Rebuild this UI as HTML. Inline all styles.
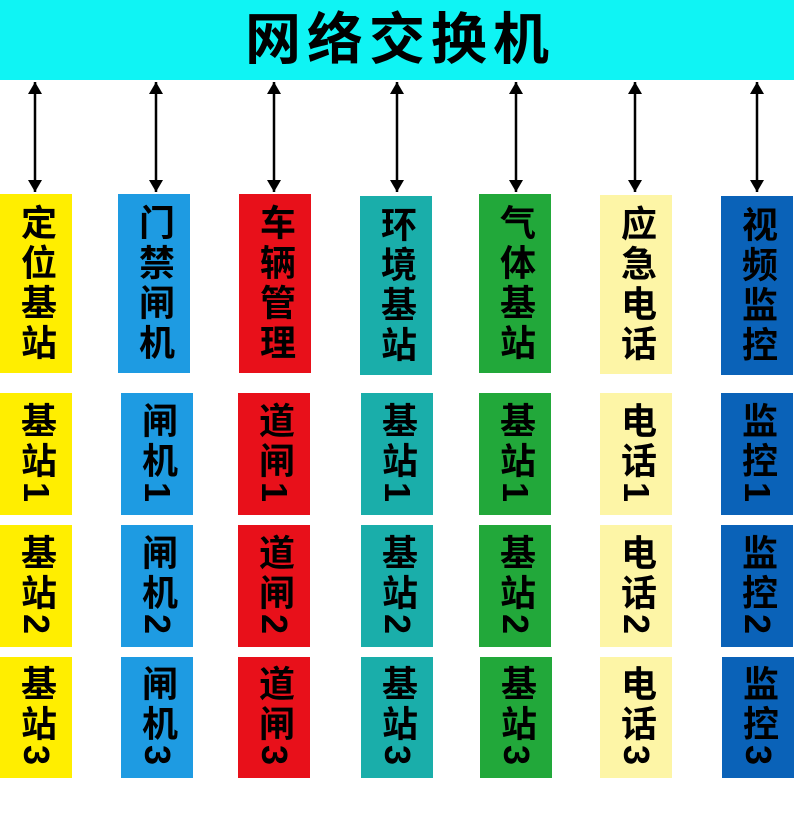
<!DOCTYPE html>
<html><head><meta charset="utf-8"><style>
body{margin:0;width:794px;height:823px;background:#fff;position:relative;overflow:hidden;font-family:"Liberation Sans","Noto Sans CJK SC",sans-serif}
.bar{position:absolute;left:0;top:0;width:794px;height:80px;background:#0ff4f4;text-align:center;font-size:56px;font-weight:bold;line-height:80px;letter-spacing:6px;text-indent:6px}
.b{position:absolute;width:72px;display:flex;align-items:center;justify-content:center}
.b span{writing-mode:vertical-rl;font-size:36px;font-weight:bold;letter-spacing:4px;color:#000;line-height:1}
</style></head><body>
<div class="bar">网络交换机</div>
<svg width="794" height="823" style="position:absolute;left:0;top:0">
<defs><marker id="a" markerWidth="14" markerHeight="14" refX="12" refY="7" orient="auto-start-reverse" markerUnits="userSpaceOnUse" viewBox="0 0 14 14"><path d="M0,0 L12,7 L0,14z" fill="#000"/></marker></defs>
<g stroke="#000" stroke-width="2.5" marker-start="url(#a)" marker-end="url(#a)">
<line x1="35" y1="82" x2="35" y2="192"/>
<line x1="156" y1="82" x2="156" y2="192"/>
<line x1="274" y1="82" x2="274" y2="192"/>
<line x1="397" y1="82" x2="397" y2="192"/>
<line x1="516" y1="82" x2="516" y2="192"/>
<line x1="635" y1="82" x2="635" y2="192"/>
<line x1="757" y1="82" x2="757" y2="192"/>
</g></svg>
<div class="b" style="left:0;top:194px;height:179px;background:#ffee00"><span>定位基站</span></div>
<div class="b" style="left:0;top:393px;height:122px;background:#ffee00"><span>基站1</span></div>
<div class="b" style="left:0;top:525px;height:122px;background:#ffee00"><span>基站2</span></div>
<div class="b" style="left:0;top:657px;height:121px;background:#ffee00"><span>基站3</span></div>
<div class="b" style="left:118px;top:194px;height:179px;background:#1e9be2"><span>门禁闸机</span></div>
<div class="b" style="left:121px;top:393px;height:122px;background:#1e9be2"><span>闸机1</span></div>
<div class="b" style="left:121px;top:525px;height:122px;background:#1e9be2"><span>闸机2</span></div>
<div class="b" style="left:121px;top:657px;height:121px;background:#1e9be2"><span>闸机3</span></div>
<div class="b" style="left:239px;top:194px;height:179px;background:#e8101a"><span>车辆管理</span></div>
<div class="b" style="left:238px;top:393px;height:122px;background:#e8101a"><span>道闸1</span></div>
<div class="b" style="left:238px;top:525px;height:122px;background:#e8101a"><span>道闸2</span></div>
<div class="b" style="left:238px;top:657px;height:121px;background:#e8101a"><span>道闸3</span></div>
<div class="b" style="left:360px;top:196px;height:179px;background:#1aaeaa"><span>环境基站</span></div>
<div class="b" style="left:361px;top:393px;height:122px;background:#1aaeaa"><span>基站1</span></div>
<div class="b" style="left:361px;top:525px;height:122px;background:#1aaeaa"><span>基站2</span></div>
<div class="b" style="left:361px;top:657px;height:121px;background:#1aaeaa"><span>基站3</span></div>
<div class="b" style="left:479px;top:194px;height:179px;background:#22a83a"><span>气体基站</span></div>
<div class="b" style="left:479px;top:393px;height:122px;background:#22a83a"><span>基站1</span></div>
<div class="b" style="left:479px;top:525px;height:122px;background:#22a83a"><span>基站2</span></div>
<div class="b" style="left:480px;top:657px;height:121px;background:#22a83a"><span>基站3</span></div>
<div class="b" style="left:600px;top:195px;height:179px;background:#fdf5a6"><span>应急电话</span></div>
<div class="b" style="left:600px;top:393px;height:122px;background:#fdf5a6"><span>电话1</span></div>
<div class="b" style="left:600px;top:525px;height:122px;background:#fdf5a6"><span>电话2</span></div>
<div class="b" style="left:600px;top:657px;height:121px;background:#fdf5a6"><span>电话3</span></div>
<div class="b" style="left:721px;top:196px;height:179px;background:#0a62b8"><span>视频监控</span></div>
<div class="b" style="left:721px;top:393px;height:122px;background:#0a62b8"><span>监控1</span></div>
<div class="b" style="left:721px;top:525px;height:122px;background:#0a62b8"><span>监控2</span></div>
<div class="b" style="left:722px;top:657px;height:121px;background:#0a62b8"><span>监控3</span></div>
</body></html>
